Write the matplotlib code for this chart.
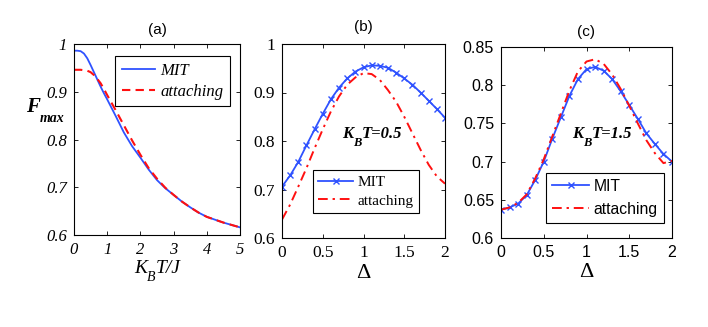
import numpy as np
import matplotlib
matplotlib.use("Agg")
import matplotlib.pyplot as plt

# (a) F_max vs K_B T/J
kt_a = [0, 0.1, 0.2, 0.3, 0.4, 0.5, 0.6, 0.7, 0.8, 0.9, 1.0, 1.25, 1.5, 1.75, 2.0,
        2.25, 2.5, 2.75, 3.0, 3.25, 3.5, 3.75, 4.0, 4.25, 4.5, 4.75, 5.0]
mit_a = [0.986, 0.986, 0.985, 0.980, 0.970, 0.956, 0.941, 0.926, 0.911, 0.897, 0.884,
         0.850, 0.815, 0.786, 0.762, 0.737, 0.715, 0.698, 0.684, 0.670, 0.658, 0.647,
         0.638, 0.632, 0.626, 0.621, 0.616]
att_a = [0.946, 0.946, 0.946, 0.945, 0.944, 0.941, 0.935, 0.927, 0.918, 0.906, 0.893,
         0.862, 0.830, 0.798, 0.768, 0.740, 0.718, 0.699, 0.684, 0.670, 0.658, 0.647,
         0.638, 0.632, 0.626, 0.621, 0.616]

# (b), (c) F vs Delta
delta = [0, 0.1, 0.2, 0.3, 0.4, 0.5, 0.6, 0.7, 0.8, 0.9, 1.0, 1.1, 1.2, 1.3, 1.4,
         1.5, 1.6, 1.7, 1.8, 1.9, 2.0]
mit_b = [0.706, 0.729, 0.757, 0.791, 0.824, 0.856, 0.886, 0.910, 0.929, 0.943, 0.952,
         0.956, 0.955, 0.951, 0.941, 0.929, 0.916, 0.900, 0.883, 0.866, 0.848]
att_b = [0.638, 0.669, 0.706, 0.744, 0.785, 0.824, 0.861, 0.892, 0.916, 0.931, 0.940,
         0.938, 0.926, 0.905, 0.881, 0.850, 0.816, 0.782, 0.751, 0.727, 0.712]
mit_c = [0.637, 0.640, 0.645, 0.656, 0.676, 0.700, 0.730, 0.758, 0.786, 0.808, 0.821,
         0.824, 0.819, 0.808, 0.792, 0.774, 0.756, 0.737, 0.723, 0.710, 0.700]
att_c = [0.637, 0.640, 0.646, 0.657, 0.678, 0.703, 0.733, 0.763, 0.793, 0.818, 0.831,
         0.834, 0.828, 0.814, 0.795, 0.773, 0.750, 0.728, 0.711, 0.698, 0.701]

blue = '#2f52ff'
red = '#ff1010'
serif = 'Liberation Serif'
sans = 'Liberation Sans'

fig = plt.figure(figsize=(7.08, 3.27), dpi=100)
W, H = 708, 327
renderer = fig.canvas.get_renderer()


def make_ax(l, t, r, b):
    ax = fig.add_axes([l / W, 1 - b / H, (r - l) / W, (b - t) / H])
    ax.tick_params(direction='in', top=True, right=True, length=3, width=0.6, pad=5)
    for s in ax.spines.values():
        s.set_linewidth(0.8)
    return ax


def style_ticks(ax, family, style, size):
    for lab in ax.get_xticklabels() + ax.get_yticklabels():
        lab.set_fontfamily(family)
        lab.set_fontstyle(style)
        lab.set_fontsize(size)


def sub_text(x0, y0, main1, sub, main2, size, subsize, drop,
             center=False, **kw):
    # matlab-like subscript: x0, y0 in pixels from top-left, y0 = baseline
    t1 = fig.text(0, 0, main1, fontsize=size, va='baseline', **kw)
    t2 = fig.text(0, 0, sub, fontsize=subsize, va='baseline', **kw)
    t3 = fig.text(0, 0, main2, fontsize=size, va='baseline', **kw) if main2 else None
    w1 = t1.get_window_extent(renderer).width
    w2 = t2.get_window_extent(renderer).width
    xb = x0 + w1
    xt = xb + w2
    end = xt
    if t3 is not None:
        end = xt + t3.get_window_extent(renderer).width
    dx = -(end - x0) / 2 if center else 0
    t1.set_position(((x0 + dx) / W, 1 - y0 / H))
    t2.set_position(((xb + dx) / W, 1 - (y0 + drop) / H))
    if t3 is not None:
        t3.set_position(((xt + dx) / W, 1 - y0 / H))


# ---- (a)
ax1 = make_ax(74, 44, 240, 235)
ax1.plot(kt_a, mit_a, '-', color=blue, lw=1.3, label='MIT')
ax1.plot(kt_a, att_a, '--', color=red, lw=1.5, dashes=(4, 2.5), label='attaching')
ax1.set_xlim(0, 5)
ax1.set_ylim(0.6, 1)
ax1.set_xticks([0, 1, 2, 3, 4, 5])
ax1.set_yticks([0.6, 0.7, 0.8, 0.9, 1.0])
ax1.set_yticklabels(['0.6', '0.7', '0.8', '0.9', '1'])
style_ticks(ax1, serif, 'italic', 12)
ax1.set_title('(a)', fontfamily=sans, fontsize=11, pad=7)
leg = ax1.legend(loc='upper right', bbox_to_anchor=(0.94, 0.937), borderaxespad=0,
                 prop={'family': serif, 'style': 'italic', 'size': 12},
                 fancybox=False, framealpha=1, edgecolor='black',
                 handlelength=2.0, borderpad=0.4, labelspacing=0.3, handletextpad=0.3)
leg.get_frame().set_linewidth(0.8)
sub_text(26, 112, 'F', 'max', None, 15, 10, 10,
         family=serif, style='italic', weight='bold')
sub_text(157, 273, 'K', 'B', 'T/J', 14, 10, 8, center=True,
         family=serif, style='italic')

# ---- (b)
ax2 = make_ax(282, 44, 445, 238)
ax2.plot(delta, mit_b, '-x', color=blue, lw=1.3, ms=5, mew=1.0, label='MIT')
ax2.plot(delta, att_b, '--', color=red, lw=1.4, dashes=(5, 2.5, 1.2, 2.5), label='attaching')
ax2.set_xlim(0, 2)
ax2.set_ylim(0.6, 1)
ax2.set_xticks([0, 0.5, 1, 1.5, 2])
ax2.set_xticklabels(['0', '0.5', '1', '1.5', '2'])
ax2.set_yticks([0.6, 0.7, 0.8, 0.9, 1.0])
ax2.set_yticklabels(['0.6', '0.7', '0.8', '0.9', '1'])
style_ticks(ax2, serif, 'normal', 12.5)
ax2.set_xlabel('Δ', fontfamily=serif, fontsize=16, labelpad=2)
ax2.set_title('(b)', fontfamily=sans, fontsize=11, pad=9)
sub_text(342, 138.5, 'K', 'B', 'T=0.5', 12, 9, 7,
         family=serif, style='italic', weight='bold')
leg = ax2.legend(loc='lower left', bbox_to_anchor=(0.188, 0.129), borderaxespad=0,
                 prop={'family': serif, 'size': 11},
                 fancybox=False, framealpha=1, edgecolor='black',
                 handlelength=2.3, borderpad=0.35, labelspacing=0.3, handletextpad=0.3)
leg.get_frame().set_linewidth(0.8)

# ---- (c)
ax3 = make_ax(501, 47, 672, 238)
ax3.plot(delta, mit_c, '-x', color=blue, lw=1.3, ms=5, mew=1.0, label='MIT')
ax3.plot(delta, att_c, '--', color=red, lw=1.4, dashes=(5, 2.5, 1.2, 2.5), label='attaching')
ax3.set_xlim(0, 2)
ax3.set_ylim(0.6, 0.85)
ax3.set_xticks([0, 0.5, 1, 1.5, 2])
ax3.set_xticklabels(['0', '0.5', '1', '1.5', '2'])
ax3.set_yticks([0.6, 0.65, 0.7, 0.75, 0.8, 0.85])
ax3.set_yticklabels(['0.6', '0.65', '0.7', '0.75', '0.8', '0.85'])
style_ticks(ax3, sans, 'normal', 11.5)
ax3.set_xlabel('Δ', fontfamily=serif, fontsize=16, labelpad=2)
ax3.set_title('(c)', fontfamily=sans, fontsize=11, pad=8)
sub_text(572, 138.5, 'K', 'B', 'T=1.5', 12, 9, 7,
         family=serif, style='italic', weight='bold')
leg = ax3.legend(loc='lower left', bbox_to_anchor=(0.263, 0.079), borderaxespad=0,
                 prop={'family': sans, 'size': 11.3},
                 fancybox=False, framealpha=1, edgecolor='black',
                 handlelength=2.35, borderpad=0.4, labelspacing=0.5, handletextpad=0.3)
leg.get_frame().set_linewidth(0.8)

fig.savefig('out.png', dpi=100)
